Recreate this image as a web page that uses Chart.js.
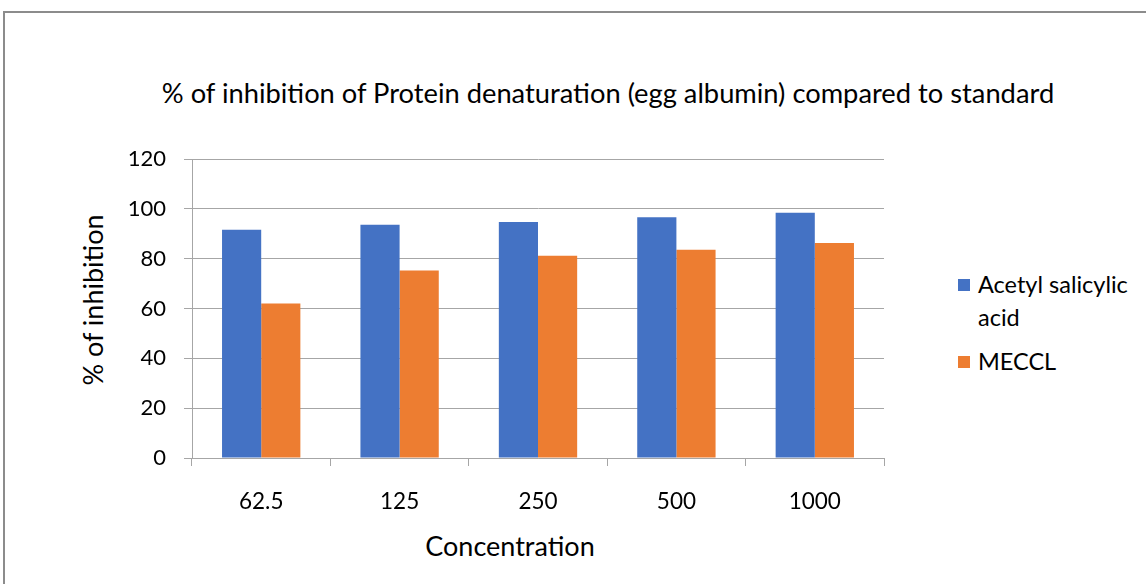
<!DOCTYPE html>
<html>
<head>
<meta charset="utf-8">
<script src="https://cdn.jsdelivr.net/npm/chart.js@4"></script>
<style>
  body { margin: 0; background: #fff; font-family: Lato, "Liberation Sans", sans-serif; }
  #wrap { position: relative; width: 1146px; height: 584px; overflow: hidden; }
  #frame { position: absolute; left: 3px; top: 11px; width: 1200px; height: 700px; border: 2px solid #8c8c8c; box-sizing: border-box; }
  #title { position: absolute; left: 0; top: 77px; width: 1216px; text-align: center; font-size: 27.3px; line-height: 32px; color: #000; }
  .axt { position: absolute; width: 300px; height: 32px; line-height: 32px; text-align: center; font-size: 27px; color: #000; }
  #xtitle { left: 360px; top: 530px; }
  #ytitle { left: -57px; top: 284px; transform: rotate(-90deg); }
  #legend { position: absolute; left: 958px; top: 268px; width: 188px; font-size: 23.5px; color: #000; }
  .item { position: relative; padding-left: 20px; line-height: 33px; margin-bottom: 11px; }
  .box { position: absolute; left: 0; top: 11px; width: 12px; height: 12px; }
  canvas { position: absolute; left: 0; top: 0; }
</style>
</head>
<body>
<div id="wrap">
  <div id="frame"></div>
  <div id="title">% of inhibition of Protein denaturation (egg albumin) compared to standard</div>
  <div id="xtitle" class="axt">Concentration</div>
  <div id="ytitle" class="axt">% of inhibition</div>
  <div id="legend"></div>
  <canvas id="chart" width="1146" height="584"></canvas>
</div>
<script>
const categories = ["62.5", "125", "250", "500", "1000"];
const seriesNames = ["Acetyl salicylic acid", "MECCL"];
const aspirin = [91.6, 93.6, 94.7, 96.6, 98.4];
const meccl = [62.0, 75.3, 81.2, 83.6, 86.3];
const colors = ["#4472C4", "#ED7D31"];

const font = "Lato, 'Liberation Sans', sans-serif";
const gridColor = "#a6a6a6";

const chart = new Chart(document.getElementById("chart"), {
  type: "bar",
  data: {
    labels: categories,
    datasets: [
      { label: seriesNames[0], data: aspirin, backgroundColor: colors[0] },
      { label: seriesNames[1], data: meccl, backgroundColor: colors[1] }
    ]
  },
  options: {
    responsive: false,
    animation: false,
    layout: { padding: { left: 77, right: 262, top: 159, bottom: 0 } },
    plugins: {
      legend: { display: false },
      title: { display: false },
      tooltip: { enabled: false }
    },
    datasets: {
      bar: { categoryPercentage: 0.566, barPercentage: 1.0 }
    },
    scales: {
      x: {
        grid: { display: true, drawOnChartArea: false, drawTicks: true, tickLength: 8, color: gridColor },
        border: { color: gridColor },
        ticks: { color: "#000", padding: 22, font: { family: font, size: 22.5 } },
        afterFit: (s) => { s.height = 126; }
      },
      y: {
        min: 0,
        max: 120,
        ticks: { stepSize: 20, color: "#000", padding: 18, font: { family: font, size: 22 } },
        grid: { color: gridColor, tickLength: 8 },
        border: { color: gridColor },
        afterFit: (s) => { s.width = 115; }
      }
    }
  }
});

// legend built from the datasets so the long name can wrap like the original
const legend = document.getElementById("legend");
chart.data.datasets.forEach((ds) => {
  const item = document.createElement("div");
  item.className = "item";
  item.innerHTML = `<span class="box" style="background:${ds.backgroundColor}"></span>${ds.label}`;
  legend.appendChild(item);
});
</script>
</body>
</html>
